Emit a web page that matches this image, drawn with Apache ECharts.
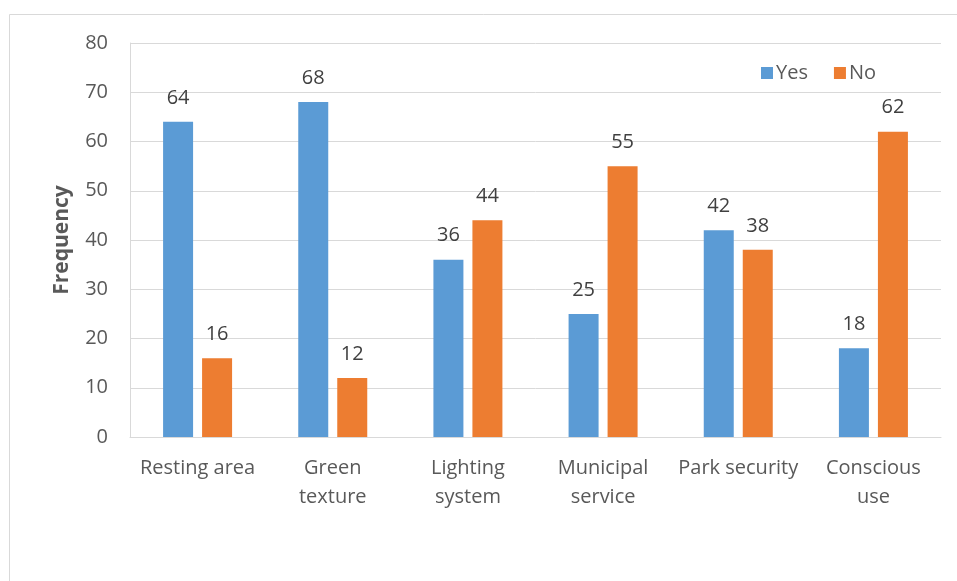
<!DOCTYPE html>
<html><head><meta charset="utf-8">
<script src="https://cdn.jsdelivr.net/npm/echarts@6/dist/echarts.min.js"></script>
<style>html,body{margin:0;padding:0;background:#fff}#c{width:957px;height:581px}</style>
</head><body><div id="c"></div>
<script>
const categories = ["Resting area", "Green\ntexture", "Lighting\nsystem", "Municipal\nservice", "Park security", "Conscious\nuse"];
const yesValues = [64, 68, 36, 25, 42, 18];
const noValues = [16, 12, 44, 55, 38, 62];
const seriesNames = ["Yes", "No"];
const yTitle = "Frequency";

const chart = echarts.init(document.getElementById('c'), null, {renderer: 'canvas'});
const font = "'Open Sans', 'Liberation Sans', sans-serif";
const labelStyle = {show: true, position: 'top', distance: 14, color: '#404040', fontSize: 20, fontFamily: font};
chart.setOption({
  animation: false,
  backgroundColor: '#fff',
  graphic: [{type: 'rect', shape: {x: 9.5, y: 14.5, width: 1000, height: 1000}, style: {fill: 'none', stroke: '#d9d9d9', lineWidth: 1}, silent: true}],
  legend: {
    data: seriesNames, left: 756, top: 58, itemWidth: 12, itemHeight: 12, itemGap: 26,
    icon: 'rect', textStyle: {color: '#595959', fontSize: 20, fontFamily: font, padding: [0,0,0,-2]}
  },
  grid: {left: 130, right: 16, top: 43, bottom: 144},
  xAxis: {
    type: 'category', data: categories,
    axisLine: {lineStyle: {color: '#d9d9d9', width: 1}},
    axisTick: {show: false},
    axisLabel: {color: '#595959', fontSize: 20, fontFamily: font, lineHeight: 29, margin: 17, interval: 0}
  },
  yAxis: {
    type: 'value', min: 0, max: 80, interval: 10,
    name: yTitle, nameLocation: 'middle', nameGap: 57, nameRotate: 90,
    nameTextStyle: {color: '#595959', fontSize: 21, fontWeight: 'bold', fontFamily: font},
    axisLine: {show: true, lineStyle: {color: '#d9d9d9'}},
    axisTick: {show: false},
    splitLine: {lineStyle: {color: '#d9d9d9', width: 1}},
    axisLabel: {color: '#595959', fontSize: 20, fontFamily: font, margin: 22}
  },
  series: [
    {name: seriesNames[0], type: 'bar', data: yesValues, barWidth: 30, barGap: '30%', itemStyle: {color: '#5B9BD5'}, label: labelStyle},
    {name: seriesNames[1], type: 'bar', data: noValues, barWidth: 30, barGap: '30%', itemStyle: {color: '#ED7D31'}, label: labelStyle}
  ]
});
</script></body></html>
